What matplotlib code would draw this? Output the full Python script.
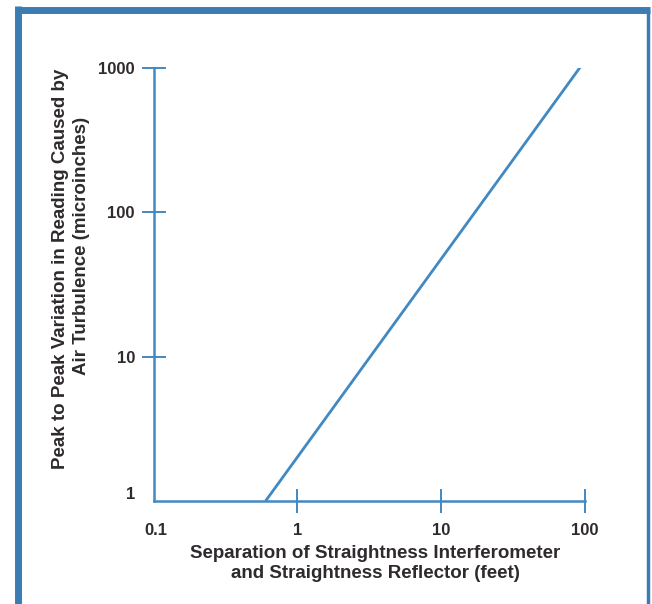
import matplotlib
matplotlib.use("Agg")
import matplotlib.pyplot as plt
from matplotlib.lines import Line2D
from matplotlib.transforms import ScaledTranslation

# Data
separation_ft = [0.6, 97]          # x values of the line endpoints
variation_uin = [1, 1080]          # y values (microinches)
x_ticks = [0.1, 1, 10, 100]
x_tick_labels = ["0.1", "1", "10", "100"]
y_ticks = [1, 10, 100, 1000]
y_tick_labels = ["1", "10", "100", "1000"]
xlabel_lines = ["Separation of Straightness Interferometer",
                "and Straightness Reflector (feet)"]
ylabel_lines = ["Peak to Peak Variation in Reading Caused by",
                "Air Turbulence (microinches)"]

W, H = 652, 604
plt.rcParams['font.family'] = ['Liberation Sans', 'DejaVu Sans']
fig = plt.figure(figsize=(W / 100, H / 100), dpi=100)
fig.patch.set_facecolor('white')

blue = '#4189c2'
frame_blue = '#3b7db3'
text_col = '#2e2a2e'

ax = fig.add_axes([153.7 / W, 1 - 501 / H, (585 - 153.7) / W, (501 - 68) / H])
ax.set_xscale('log')
ax.set_yscale('log')
ax.set_xlim(0.1, 100)
ax.set_ylim(1, 1000)

ax.plot(separation_ft, variation_uin, color=blue, lw=2.0, solid_capstyle='butt')

for s in ['top', 'right']:
    ax.spines[s].set_visible(False)
for s in ['left', 'bottom']:
    ax.spines[s].set_color(blue)
    ax.spines[s].set_linewidth(1.8)

ax.set_xticks(x_ticks)
ax.set_xticklabels(x_tick_labels)
ax.set_yticks(y_ticks)
ax.set_yticklabels(y_tick_labels)
ax.minorticks_off()
ax.tick_params(axis='both', direction='inout', length=17, width=1.4, color=blue,
               labelsize=12, labelcolor=text_col)
ax.tick_params(axis='x', pad=7)
ax.tick_params(axis='y', pad=5)
for lab in ax.get_xticklabels() + ax.get_yticklabels():
    lab.set_fontweight('bold')

ax.xaxis.get_major_ticks()[0].tick1line.set_visible(False)
ax.yaxis.get_major_ticks()[0].tick1line.set_visible(False)
ylab1 = ax.get_yticklabels()[0]
ylab1.set_transform(ylab1.get_transform() + ScaledTranslation(0, 8 / 100, fig.dpi_scale_trans))
xlab01 = ax.get_xticklabels()[0]
xlab01.set_transform(xlab01.get_transform() + ScaledTranslation(2.5 / 100, 0, fig.dpi_scale_trans))

# Axis titles
fig.text(375 / W, 1 - 553 / H, xlabel_lines[0], ha='center', va='center',
         fontsize=13.5, fontweight='bold', color=text_col)
fig.text(375 / W, 1 - 573 / H, xlabel_lines[1], ha='center', va='center',
         fontsize=13.5, fontweight='bold', color=text_col)
fig.text(61 / W, 1 - 269 / H, ylabel_lines[0], ha='center', va='center', rotation=90,
         fontsize=13.5, fontweight='bold', color=text_col)
fig.text(81.5 / W, 1 - 246 / H, ylabel_lines[1], ha='center', va='center', rotation=90,
         fontsize=13.5, fontweight='bold', color=text_col)

# Blue page frame
fig.add_artist(Line2D([17.5 / W, 17.5 / W], [0, 1 - 6 / H], transform=fig.transFigure,
                      color=frame_blue, lw=5, solid_capstyle='butt'))
fig.add_artist(Line2D([14.5 / W, 650 / W], [1 - 9.5 / H, 1 - 9.5 / H], transform=fig.transFigure,
                      color=frame_blue, lw=5, solid_capstyle='butt'))
fig.add_artist(Line2D([648 / W, 648 / W], [0, 1 - 9.5 / H], transform=fig.transFigure,
                      color=frame_blue, lw=2.5, solid_capstyle='butt'))

fig.savefig('out.png', dpi=100)
